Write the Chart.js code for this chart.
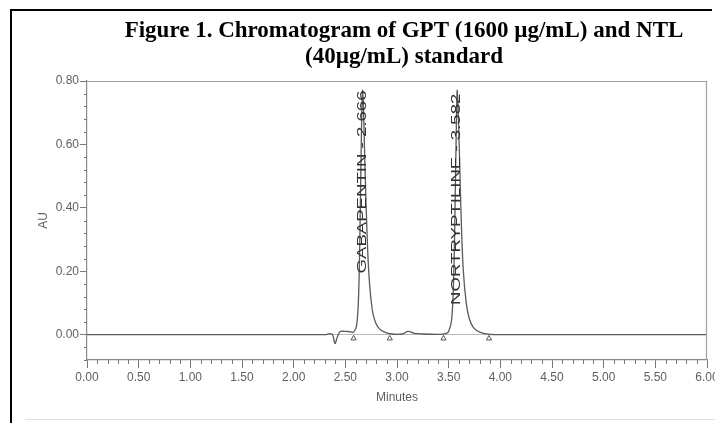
<!DOCTYPE html>
<html>
<head>
<meta charset="utf-8">
<script src="https://cdn.jsdelivr.net/npm/chart.js@4"></script>
<style>
  html, body { margin: 0; padding: 0; background: #fff; }
  #wrap { width: 715px; height: 423px; position: relative; }
</style>
</head>
<body>
<div id="wrap"><canvas id="chromChart" width="715" height="423"></canvas></div>
<script>
// retention time (min) and detector response (AU)
const times = [0, 0.2, 0.5, 1.0, 1.5, 2.0, 2.3, 2.37, 2.40, 2.42, 2.45, 2.5, 2.55, 2.58,
  2.61, 2.63, 2.645, 2.655, 2.666, 2.675, 2.69, 2.71, 2.73, 2.76, 2.79, 2.83, 2.88, 2.95,
  3.05, 3.10, 3.13, 3.17, 3.25, 3.40, 3.47, 3.50, 3.53, 3.55, 3.565, 3.575, 3.582, 3.59,
  3.605, 3.62, 3.64, 3.67, 3.70, 3.74, 3.80, 3.90, 4.3, 4.5, 5.2, 5.3, 6.0];
const au = [0, 0, 0, 0, 0, 0, 0, 0.002, -0.028, -0.01, 0.01, 0.01, 0.009, 0.008,
  0.03, 0.14, 0.40, 0.62, 0.77, 0.72, 0.53, 0.32, 0.18, 0.08, 0.04, 0.018, 0.008, 0.002,
  0.002, 0.01, 0.009, 0.004, 0.002, 0.001, 0.003, 0.01, 0.05, 0.20, 0.47, 0.67, 0.77, 0.73,
  0.56, 0.38, 0.21, 0.10, 0.05, 0.022, 0.008, 0.001, 0, 0, 0, 0, 0];

// integration start/end markers
const markerTimes = [2.58, 2.93, 3.45, 3.89];
const markerAU = [-0.012, -0.012, -0.012, -0.012];

// peak labels
const peakNames = ["GABAPENTIN - 2.666", "NORTRYPTILINE - 3.582"];
const peakTimes = [2.666, 3.582];
const peakTops = [0.77, 0.76];

const titleLines = ["Figure 1. Chromatogram of GPT (1600 \u00b5g/mL) and NTL", "(40\u00b5g/mL) standard"];

const isMajor = (v, step) => Math.abs(v / step - Math.round(v / step)) < 1e-6;

const decorPlugin = {
  id: "decor",
  beforeDraw(chart) {
    const c = chart.ctx;
    c.save();
    c.fillStyle = "#fff";
    c.fillRect(0, 0, chart.width, chart.height);
    // outer black frame (top and left)
    c.strokeStyle = "#000";
    c.lineWidth = 2;
    c.beginPath();
    c.moveTo(11, 423);
    c.lineTo(11, 10);
    c.lineTo(712, 10);
    c.stroke();
    // faint line at the bottom
    c.strokeStyle = "#e2e2e2";
    c.lineWidth = 1;
    c.beginPath();
    c.moveTo(25, 419.5);
    c.lineTo(715, 419.5);
    c.stroke();
    // title
    c.fillStyle = "#000";
    c.font = "bold 23px 'Liberation Serif', 'Times New Roman', serif";
    c.textAlign = "center";
    c.textBaseline = "alphabetic";
    c.fillText(titleLines[0], 404, 37);
    c.fillText(titleLines[1], 404, 63);
    c.restore();
  },
  afterDraw(chart) {
    const c = chart.ctx;
    const a = chart.chartArea;
    const xs = chart.scales.x, ys = chart.scales.y;
    c.save();
    // frame top & right
    c.strokeStyle = "#a0a0a0";
    c.lineWidth = 1.2;
    c.beginPath();
    c.moveTo(a.left, a.top + 0.5);
    c.lineTo(a.right - 0.5, a.top + 0.5);
    c.lineTo(a.right - 0.5, a.bottom);
    c.stroke();
    // minor ticks
    c.strokeStyle = "#777";
    c.lineWidth = 1;
    c.beginPath();
    xs.ticks.forEach(t => {
      if (isMajor(t.value, 0.5)) return;
      const px = Math.round(xs.getPixelForValue(t.value)) + 0.5;
      c.moveTo(px, a.bottom);
      c.lineTo(px, a.bottom + 4);
    });
    ys.ticks.forEach(t => {
      if (isMajor(t.value, 0.2)) return;
      const py = Math.round(ys.getPixelForValue(t.value)) + 0.5;
      c.moveTo(a.left, py);
      c.lineTo(a.left - 3, py);
    });
    c.stroke();
    // peak labels, stretched along the text like the instrument print
    c.fillStyle = "#333";
    c.font = "12px 'Liberation Sans', Arial, sans-serif";
    c.textBaseline = "middle";
    c.textAlign = "right";
    peakNames.forEach((name, i) => {
      const px = xs.getPixelForValue(peakTimes[i]);
      const py = ys.getPixelForValue(peakTops[i]);
      c.save();
      c.translate(px, py);
      c.rotate(-Math.PI / 2);
      c.scale(1.55, 1);
      c.fillText(name, 0, 0);
      c.restore();
    });
    c.restore();
  }
};

const tickFont = { family: "'Liberation Sans', Arial, sans-serif", size: 12 };

new Chart(document.getElementById("chromChart"), {
  type: "line",
  data: {
    datasets: [
      {
        label: "trace",
        data: times.map((t, i) => ({ x: t, y: au[i] })),
        borderColor: "#5a5a5a",
        borderWidth: 1.3,
        pointRadius: 0,
        tension: 0.35,
        fill: false
      },
      {
        label: "markers",
        data: markerTimes.map((t, i) => ({ x: t, y: markerAU[i] })),
        showLine: false,
        pointStyle: "triangle",
        pointRadius: 3,
        pointBackgroundColor: "#fff",
        pointBorderColor: "#555",
        pointBorderWidth: 1
      }
    ]
  },
  options: {
    responsive: false,
    animation: false,
    layout: { padding: { left: 25, right: 8, top: 81, bottom: 0 } },
    plugins: { legend: { display: false }, tooltip: { enabled: false }, title: { display: false } },
    scales: {
      x: {
        type: "linear",
        min: 0,
        max: 6,
        afterFit(s) { s.height = 63; s.paddingLeft = 0; s.paddingRight = 0; },
        ticks: {
          stepSize: 0.1,
          autoSkip: false,
          maxRotation: 0,
          padding: 2,
          color: "#606060",
          font: tickFont,
          callback: v => isMajor(v, 0.5) ? v.toFixed(2) : ""
        },
        grid: {
          drawOnChartArea: false,
          tickLength: 8,
          tickColor: ctx => isMajor(ctx.tick.value, 0.5) ? "#777" : "transparent"
        },
        border: { color: "#8a8a8a", width: 1.2 },
        title: {
          display: true,
          text: "Minutes",
          color: "#606060",
          font: tickFont,
          padding: { top: 4, bottom: 18 }
        }
      },
      y: {
        min: -0.08,
        max: 0.8,
        afterFit(s) { s.width = 87 - 25; s.paddingTop = 0; s.paddingBottom = 0; },
        ticks: {
          stepSize: 0.04,
          autoSkip: false,
          padding: 1,
          color: "#606060",
          font: tickFont,
          callback: v => (isMajor(v, 0.2) && v >= -1e-9) ? Math.abs(v).toFixed(2) : ""
        },
        grid: {
          drawOnChartArea: true,
          tickLength: 7,
          color: ctx => Math.abs(ctx.tick.value) < 1e-9 ? "#b8b8b8" : "transparent",
          tickColor: ctx => (isMajor(ctx.tick.value, 0.2) && ctx.tick.value > -0.01) ? "#777" : "transparent"
        },
        border: { color: "#8a8a8a", width: 1.2 },
        title: {
          display: true,
          text: "AU",
          color: "#606060",
          font: tickFont,
          padding: { top: 11, bottom: 0 }
        }
      }
    }
  },
  plugins: [decorPlugin]
});
</script>
</body>
</html>
